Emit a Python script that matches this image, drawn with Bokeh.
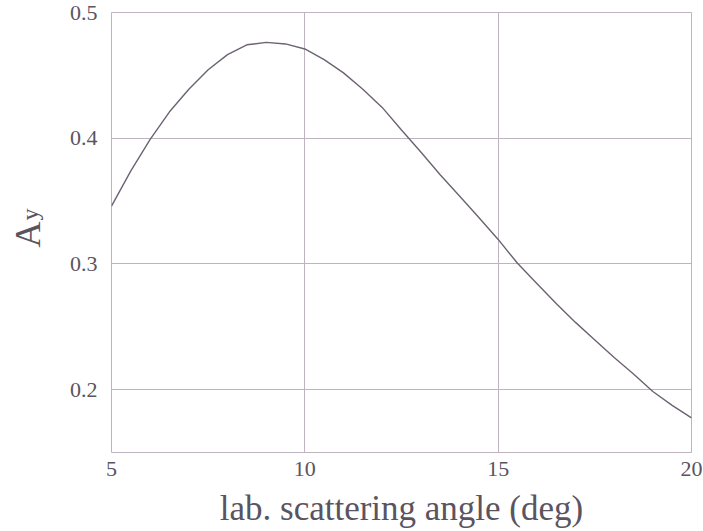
from bokeh.plotting import figure
from bokeh.models import FixedTicker, Range1d, Label
from bokeh.embed import file_html
from bokeh.resources import INLINE
import math

# Data
angle_deg = [5.0, 5.5, 6.0, 6.5, 7.0, 7.5, 8.0, 8.5, 9.0, 9.5, 10.0,
             10.5, 11.0, 11.5, 12.0, 12.5, 13.0, 13.5, 14.0, 14.5, 15.0,
             15.5, 16.0, 16.5, 17.0, 17.5, 18.0, 18.5, 19.0, 19.5, 20.0]
ay_values = [0.346, 0.374, 0.399, 0.421, 0.439, 0.4545, 0.4665, 0.4743, 0.4762, 0.475, 0.471,
             0.4625, 0.452, 0.439, 0.4245, 0.4065, 0.389, 0.371, 0.354, 0.337, 0.3195,
             0.3005, 0.2845, 0.2685, 0.2535, 0.2395, 0.2255, 0.2125, 0.1985, 0.1875, 0.1776]
x_ticks = [5, 10, 15, 20]
y_ticks = [0.2, 0.3, 0.4, 0.5]
x_title = "lab. scattering angle (deg)"
y_title_main = "A"
y_title_sub = "y"

TEXT = "#5a5460"
LINE = "#6d6272"
GRID = "#bdb4c0"
FONT = "Liberation Serif"

p = figure(width=703, height=531, output_backend="svg", toolbar_location=None,
           x_range=Range1d(5, 20), y_range=Range1d(0.15, 0.5))
p.min_border_left = 109
p.min_border_right = 12
p.min_border_top = 12
p.min_border_bottom = 79

p.line(angle_deg, ay_values, line_color=LINE, line_width=1.4)

p.xaxis.ticker = FixedTicker(ticks=x_ticks)
p.yaxis.ticker = FixedTicker(ticks=y_ticks)
p.xaxis.major_label_overrides = {5: "5", 10: "10", 15: "15", 20: "20"}
p.yaxis.major_label_overrides = {0.2: "0.2", 0.3: "0.3", 0.4: "0.4", 0.5: "0.5"}

for ax in (p.xaxis, p.yaxis):
    ax.axis_line_color = None
    ax.major_tick_line_color = None
    ax.minor_tick_line_color = None
    ax.major_tick_out = 0
    ax.major_tick_in = 0
    ax.major_label_text_font = FONT
    ax.major_label_text_font_size = "22px"
    ax.major_label_text_color = TEXT
    ax.axis_label_text_font = FONT
    ax.axis_label_text_font_style = "normal"
    ax.axis_label_text_color = TEXT

p.xaxis.major_label_standoff = 9
p.yaxis.major_label_standoff = 14
p.xaxis.axis_label = x_title
p.xaxis.axis_label_text_font_size = "35px"
p.xaxis.axis_label_standoff = 10

p.grid.grid_line_color = GRID
p.grid.grid_line_width = 1
p.outline_line_color = GRID
p.outline_line_width = 1
p.background_fill_color = "white"
p.border_fill_color = "white"

# rotated y title "A" with its smaller "y", kept in the left side panel (not clipped to the frame)
title_main = Label(x=2.85, y=0.313, x_units="data", y_units="data", text=y_title_main,
                   angle=math.pi / 2, angle_units="rad", text_font=FONT, text_font_size="36px",
                   text_color=TEXT, text_baseline="alphabetic", text_align="left")
title_sub = Label(x=2.89, y=0.3346, x_units="data", y_units="data", text=y_title_sub,
                  angle=math.pi / 2, angle_units="rad", text_font=FONT, text_font_size="24px",
                  text_color=TEXT, text_baseline="alphabetic", text_align="left")
p.add_layout(title_main, "left")
p.add_layout(title_sub, "left")

open("out.html", "w").write(file_html(p, INLINE))
